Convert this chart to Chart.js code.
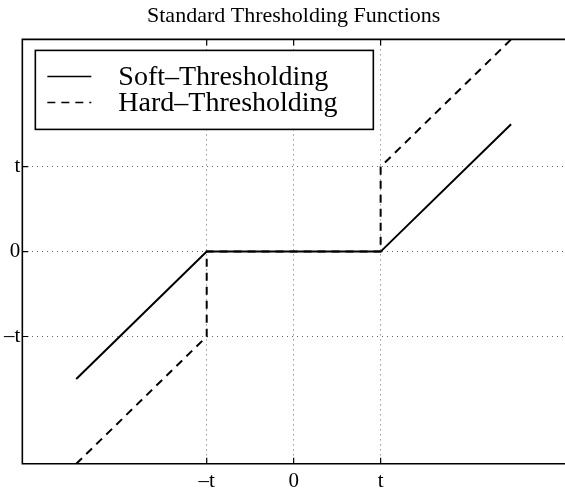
<!DOCTYPE html>
<html>
<head>
<meta charset="utf-8">
<script src="https://cdn.jsdelivr.net/npm/chart.js@4"></script>
<style>
  body { margin: 0; background: #fff; }
  .wrap { width: 565px; height: 494px; }
</style>
</head>
<body>
<div class="wrap"><canvas id="thresh"></canvas></div>
<script>
// soft and hard thresholding, threshold t = 1
const softX = [-2.5, -1, 1, 2.5];
const softY = [-1.5, 0, 0, 1.5];
const hardX = [-2.5, -1, -1, 1, 1, 2.5];
const hardY = [-2.5, -1, 0, 0, 1, 2.5];
const tickValues = [-1, 0, 1];
const tickLabels = ["\u2013t", "0", "t"];
const seriesNames = ["Soft\u2013Thresholding", "Hard\u2013Thresholding"];

const serif = "'Liberation Serif', 'Times New Roman', Times, serif";

function toPoints(xs, ys) {
  return xs.map((x, i) => ({ x: x, y: ys[i] }));
}

// box on left, top and bottom with inward tick marks
const framePlugin = {
  id: "frame",
  afterDatasetsDraw(chart) {
    const { ctx, chartArea, scales } = chart;
    const { left, top, right, bottom } = chartArea;
    ctx.save();
    ctx.strokeStyle = "#000";
    ctx.lineWidth = 1.6;
    ctx.beginPath();
    ctx.moveTo(right + 2, top);
    ctx.lineTo(left, top);
    ctx.lineTo(left, bottom);
    ctx.lineTo(right + 2, bottom);
    ctx.stroke();
    ctx.lineWidth = 1.2;
    ctx.beginPath();
    tickValues.forEach((v) => {
      const px = scales.x.getPixelForValue(v);
      ctx.moveTo(px, bottom);
      ctx.lineTo(px, bottom - 6);
      ctx.moveTo(px, top);
      ctx.lineTo(px, top + 6);
      const py = scales.y.getPixelForValue(v);
      ctx.moveTo(left, py);
      ctx.lineTo(left + 6, py);
    });
    ctx.stroke();
    ctx.restore();
  },
};

// boxed legend in the upper left corner of the axes
const boxLegendPlugin = {
  id: "boxLegend",
  afterDraw(chart) {
    const { ctx, chartArea } = chart;
    const bx = chartArea.left + 13;
    const by = chartArea.top + 11;
    const bw = 338;
    const bh = 79;
    ctx.save();
    ctx.fillStyle = "#fff";
    ctx.fillRect(bx, by, bw, bh);
    ctx.strokeStyle = "#000";
    ctx.lineWidth = 1.6;
    ctx.strokeRect(bx, by, bw, bh);
    ctx.font = "28px " + serif;
    ctx.fillStyle = "#000";
    ctx.textBaseline = "alphabetic";
    chart.data.datasets.forEach((ds, i) => {
      const ly = by + 26 + i * 26;
      ctx.beginPath();
      ctx.setLineDash(ds.borderDash || []);
      ctx.lineWidth = 1.5;
      ctx.moveTo(bx + 12, ly);
      ctx.lineTo(bx + 56, ly);
      ctx.stroke();
      ctx.setLineDash([]);
      ctx.fillText(ds.label, bx + 83, ly + 9);
    });
    ctx.restore();
  },
};

function axisTicks(scale) {
  scale.ticks = tickValues.map((v) => ({ value: v }));
}

new Chart(document.getElementById("thresh"), {
  type: "scatter",
  data: {
    datasets: [
      {
        label: seriesNames[0],
        data: toPoints(softX, softY),
        showLine: true,
        borderColor: "#000",
        borderWidth: 2,
        pointRadius: 0,
        fill: false,
      },
      {
        label: seriesNames[1],
        data: toPoints(hardX, hardY),
        showLine: true,
        borderColor: "#000",
        borderWidth: 2,
        borderDash: [8, 6],
        pointRadius: 0,
        fill: false,
      },
    ],
  },
  options: {
    responsive: true,
    maintainAspectRatio: false,
    animation: false,
    layout: { padding: { left: 2, right: 0, top: 0, bottom: -5 } },
    plugins: {
      legend: { display: false },
      tooltip: { enabled: false },
      title: {
        display: true,
        text: "Standard Thresholding Functions",
        fullSize: false,
        color: "#000",
        font: { family: serif, size: 22, weight: "normal" },
        padding: { top: 3, bottom: 10 },
      },
    },
    scales: {
      x: {
        type: "linear",
        min: -3.12,
        max: 3.12,
        afterBuildTicks: axisTicks,
        grid: { color: "#666", lineWidth: 1, drawTicks: false },
        border: { display: false, dash: [1, 4] },
        ticks: {
          color: "#000",
          padding: 5,
          font: { family: serif, size: 21 },
          callback: (v, i) => tickLabels[i],
        },
      },
      y: {
        type: "linear",
        min: -2.5,
        max: 2.5,
        afterBuildTicks: axisTicks,
        grid: { color: "#666", lineWidth: 1, drawTicks: false },
        border: { display: false, dash: [1, 4] },
        ticks: {
          color: "#000",
          padding: 2,
          font: { family: serif, size: 21 },
          callback: (v, i) => tickLabels[i],
        },
      },
    },
  },
  plugins: [framePlugin, boxLegendPlugin],
});
</script>
</body>
</html>
